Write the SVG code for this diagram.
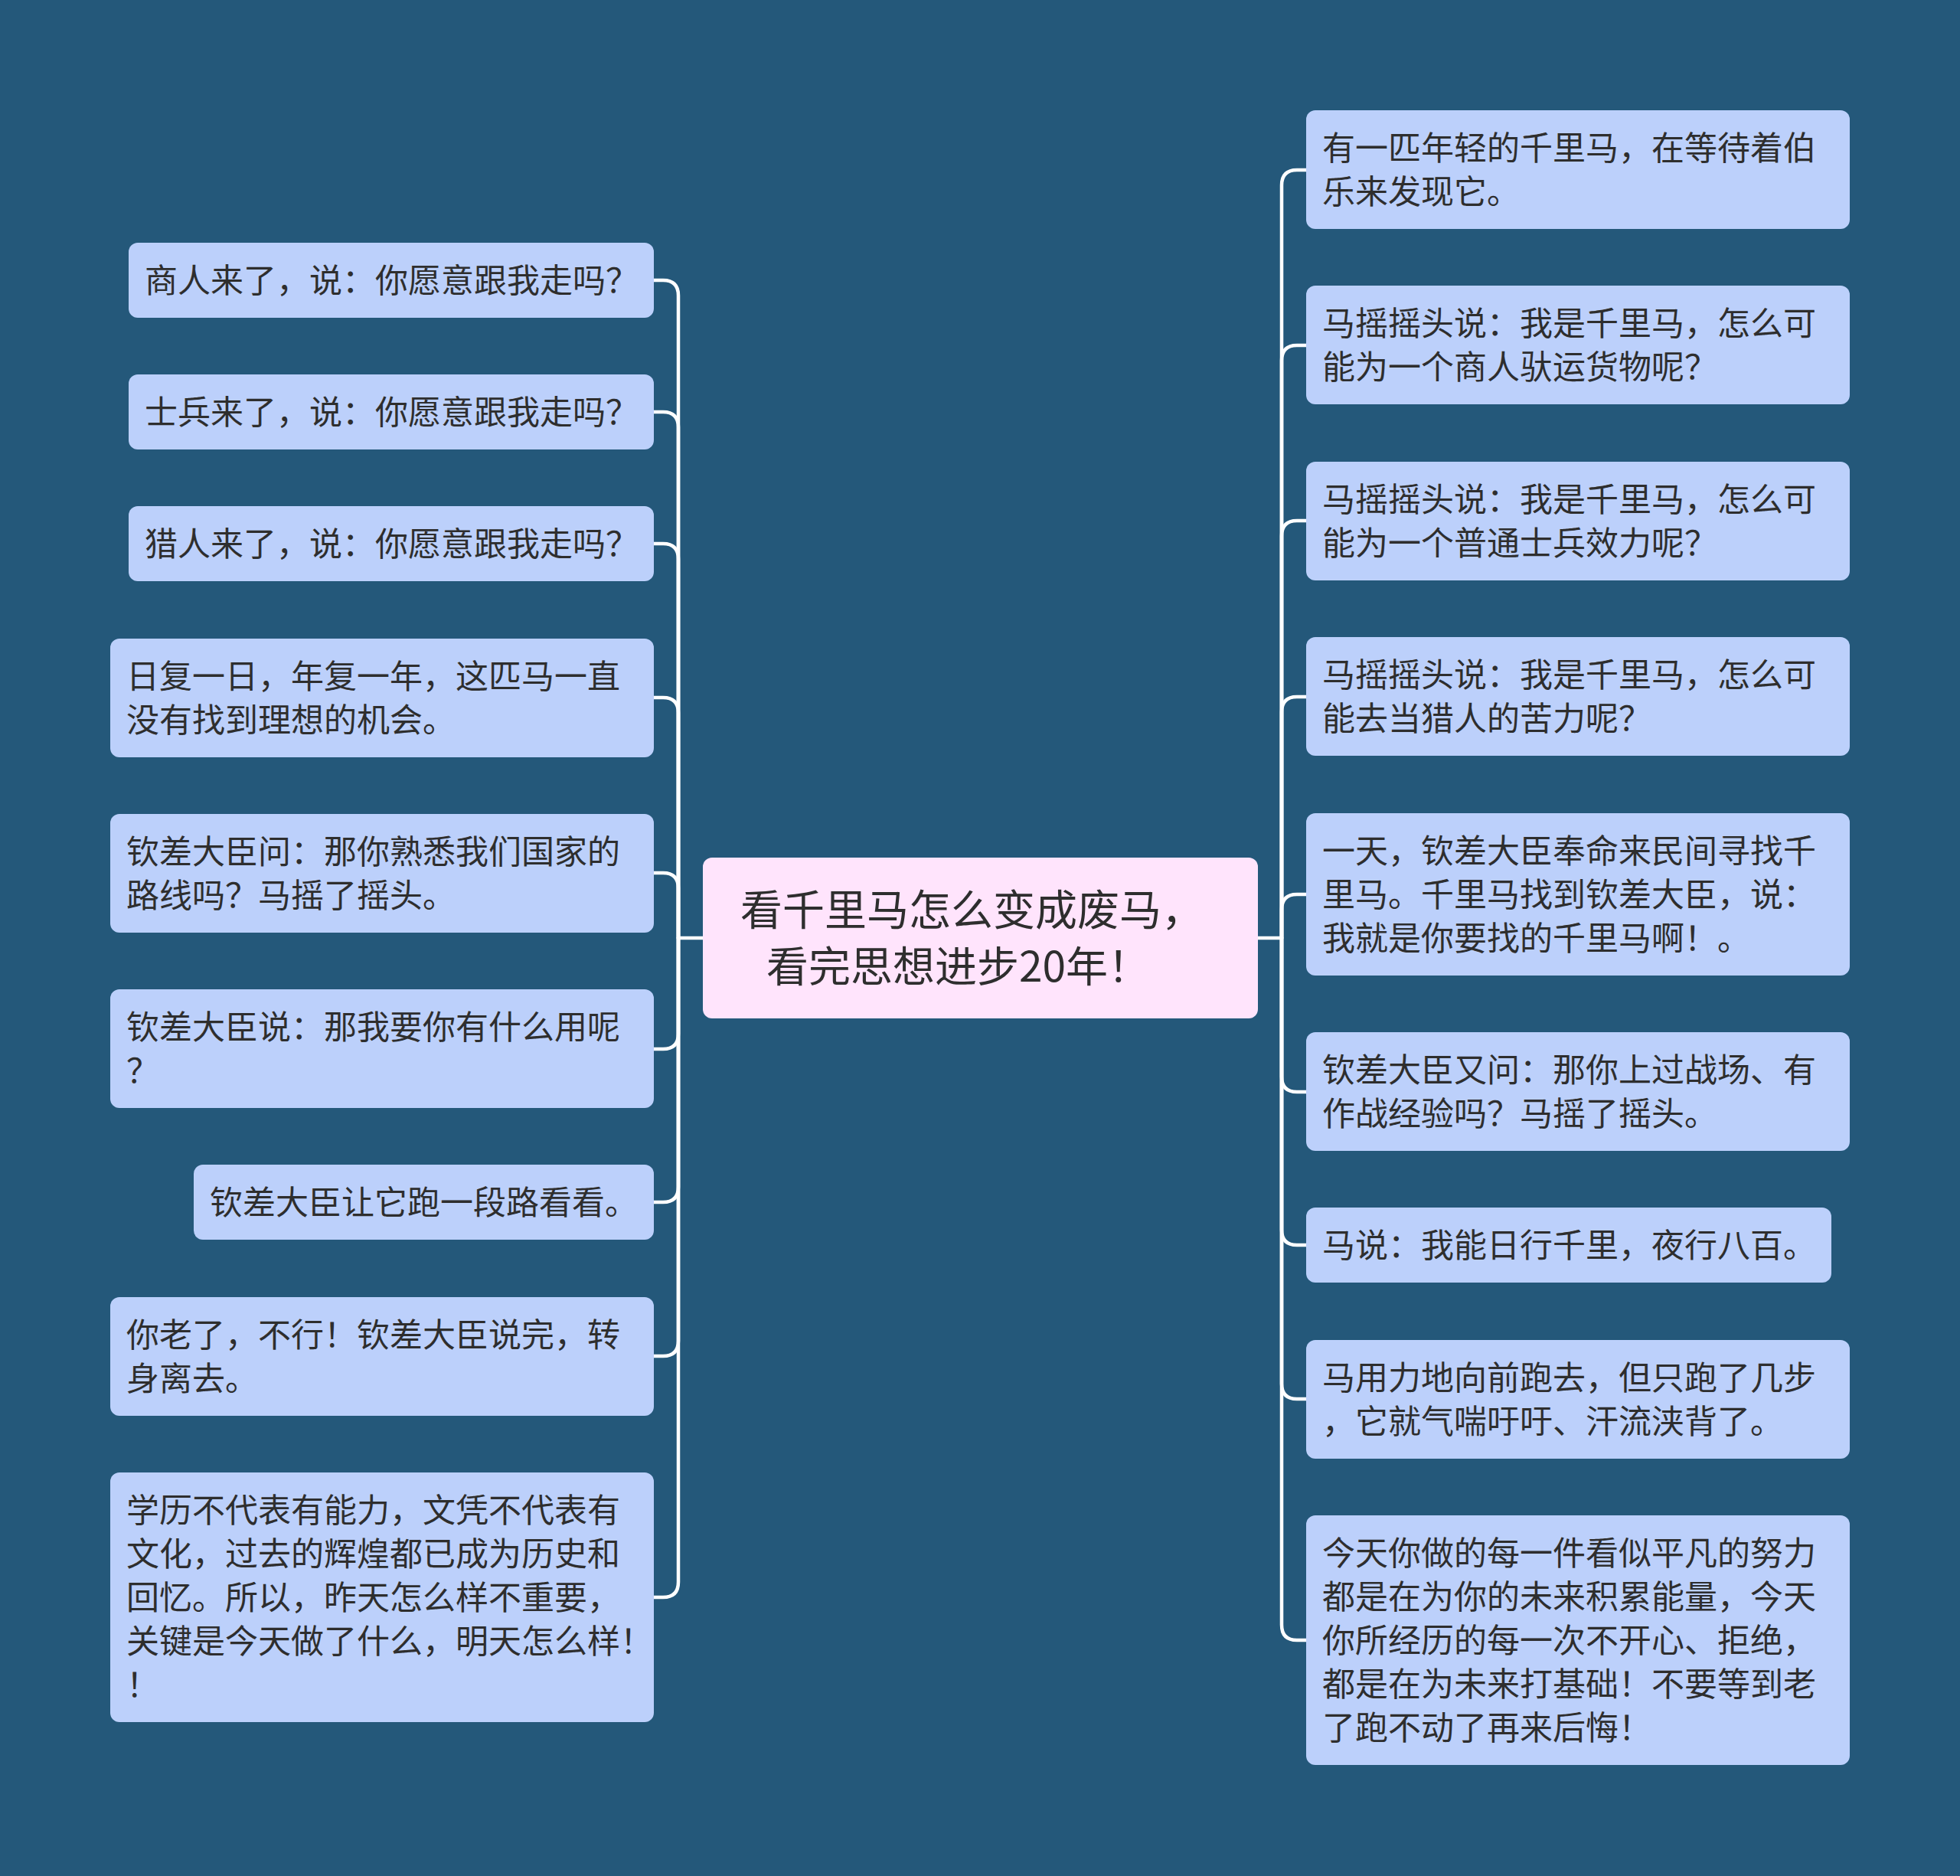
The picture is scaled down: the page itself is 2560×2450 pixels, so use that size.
<svg xmlns="http://www.w3.org/2000/svg" width="2560" height="2450" viewBox="0 0 2560 2450">
<style>
.bg{fill:#24587a}
.box{fill:#bcd0fb}
.root{fill:#ffe4fc}
.t{font-family:"Noto Sans CJK SC","Noto Sans",sans-serif;font-size:43px;fill:#2e2e2e}
.rt{font-family:"Noto Sans CJK SC","Noto Sans",sans-serif;font-size:55px;fill:#2e2e2e}
.c{fill:none;stroke:#ffffff;stroke-width:4.5;stroke-linecap:round}
</style>
<rect class="bg" x="0" y="0" width="2560" height="2450"/>
<g id="connectors">
<path class="c" d="M918 1225 H886"/>
<path class="c" d="M1643 1225 H1674"/>
<path class="c" d="M886 1225 V386 Q886 366 866 366 H854"/>
<path class="c" d="M886 1225 V558 Q886 538 866 538 H854"/>
<path class="c" d="M886 1225 V730 Q886 710 866 710 H854"/>
<path class="c" d="M886 1225 V931 Q886 911 866 911 H854"/>
<path class="c" d="M886 1225 V1160 Q886 1140 866 1140 H854"/>
<path class="c" d="M886 1225 V1350 Q886 1370 866 1370 H854"/>
<path class="c" d="M886 1225 V1550 Q886 1570 866 1570 H854"/>
<path class="c" d="M886 1225 V1751 Q886 1771 866 1771 H854"/>
<path class="c" d="M886 1225 V2066 Q886 2086 866 2086 H854"/>
<path class="c" d="M1674 1225 V242 Q1674 222 1694 222 H1706"/>
<path class="c" d="M1674 1225 V471 Q1674 451 1694 451 H1706"/>
<path class="c" d="M1674 1225 V700 Q1674 680 1694 680 H1706"/>
<path class="c" d="M1674 1225 V930 Q1674 910 1694 910 H1706"/>
<path class="c" d="M1674 1225 V1188 Q1674 1168 1694 1168 H1706"/>
<path class="c" d="M1674 1225 V1406 Q1674 1426 1694 1426 H1706"/>
<path class="c" d="M1674 1225 V1606 Q1674 1626 1694 1626 H1706"/>
<path class="c" d="M1674 1225 V1807 Q1674 1827 1694 1827 H1706"/>
<path class="c" d="M1674 1225 V2122 Q1674 2142 1694 2142 H1706"/>
</g>
<g id="root">
<rect class="root" x="918" y="1120" width="725" height="210" rx="12"/>
<text class="rt" x="967" y="1208">看千里马怎么变成废马，</text>
<text class="rt" x="1001" y="1282">看完思想进步20年！</text>
</g>
<g id="l1"><rect class="box" x="168" y="317" width="686" height="98" rx="12"/><text class="t" x="189" y="382">商人来了，说：你愿意跟我走吗？</text></g>
<g id="l2"><rect class="box" x="168" y="489" width="686" height="98" rx="12"/><text class="t" x="189" y="554">士兵来了，说：你愿意跟我走吗？</text></g>
<g id="l3"><rect class="box" x="168" y="661" width="686" height="98" rx="12"/><text class="t" x="189" y="726">猎人来了，说：你愿意跟我走吗？</text></g>
<g id="l4"><rect class="box" x="144" y="834" width="710" height="155" rx="12"/><text class="t" x="165" y="899">日复一日，年复一年，这匹马一直</text><text class="t" x="165" y="956">没有找到理想的机会。</text></g>
<g id="l5"><rect class="box" x="144" y="1063" width="710" height="155" rx="12"/><text class="t" x="165" y="1128">钦差大臣问：那你熟悉我们国家的</text><text class="t" x="165" y="1185">路线吗？马摇了摇头。</text></g>
<g id="l6"><rect class="box" x="144" y="1292" width="710" height="155" rx="12"/><text class="t" x="165" y="1357">钦差大臣说：那我要你有什么用呢</text><text class="t" x="165" y="1414">？</text></g>
<g id="l7"><rect class="box" x="253" y="1521" width="601" height="98" rx="12"/><text class="t" x="274" y="1586">钦差大臣让它跑一段路看看。</text></g>
<g id="l8"><rect class="box" x="144" y="1694" width="710" height="155" rx="12"/><text class="t" x="165" y="1759">你老了，不行！钦差大臣说完，转</text><text class="t" x="165" y="1816">身离去。</text></g>
<g id="l9"><rect class="box" x="144" y="1923" width="710" height="326" rx="12"/><text class="t" x="165" y="1988">学历不代表有能力，文凭不代表有</text><text class="t" x="165" y="2045">文化，过去的辉煌都已成为历史和</text><text class="t" x="165" y="2102">回忆。所以，昨天怎么样不重要，</text><text class="t" x="165" y="2159">关键是今天做了什么，明天怎么样！</text><text class="t" x="165" y="2216">！</text></g>
<g id="r1"><rect class="box" x="1706" y="144" width="710" height="155" rx="12"/><text class="t" x="1727" y="209">有一匹年轻的千里马，在等待着伯</text><text class="t" x="1727" y="266">乐来发现它。</text></g>
<g id="r2"><rect class="box" x="1706" y="373" width="710" height="155" rx="12"/><text class="t" x="1727" y="438">马摇摇头说：我是千里马，怎么可</text><text class="t" x="1727" y="495">能为一个商人驮运货物呢？</text></g>
<g id="r3"><rect class="box" x="1706" y="603" width="710" height="155" rx="12"/><text class="t" x="1727" y="668">马摇摇头说：我是千里马，怎么可</text><text class="t" x="1727" y="725">能为一个普通士兵效力呢？</text></g>
<g id="r4"><rect class="box" x="1706" y="832" width="710" height="155" rx="12"/><text class="t" x="1727" y="897">马摇摇头说：我是千里马，怎么可</text><text class="t" x="1727" y="954">能去当猎人的苦力呢？</text></g>
<g id="r5"><rect class="box" x="1706" y="1062" width="710" height="212" rx="12"/><text class="t" x="1727" y="1127">一天，钦差大臣奉命来民间寻找千</text><text class="t" x="1727" y="1184">里马。千里马找到钦差大臣，说：</text><text class="t" x="1727" y="1241">我就是你要找的千里马啊！。</text></g>
<g id="r6"><rect class="box" x="1706" y="1348" width="710" height="155" rx="12"/><text class="t" x="1727" y="1413">钦差大臣又问：那你上过战场、有</text><text class="t" x="1727" y="1470">作战经验吗？马摇了摇头。</text></g>
<g id="r7"><rect class="box" x="1706" y="1577" width="686" height="98" rx="12"/><text class="t" x="1727" y="1642">马说：我能日行千里，夜行八百。</text></g>
<g id="r8"><rect class="box" x="1706" y="1750" width="710" height="155" rx="12"/><text class="t" x="1727" y="1815">马用力地向前跑去，但只跑了几步</text><text class="t" x="1727" y="1872">，它就气喘吁吁、汗流浃背了。</text></g>
<g id="r9"><rect class="box" x="1706" y="1979" width="710" height="326" rx="12"/><text class="t" x="1727" y="2044">今天你做的每一件看似平凡的努力</text><text class="t" x="1727" y="2101">都是在为你的未来积累能量，今天</text><text class="t" x="1727" y="2158">你所经历的每一次不开心、拒绝，</text><text class="t" x="1727" y="2215">都是在为未来打基础！不要等到老</text><text class="t" x="1727" y="2272">了跑不动了再来后悔！</text></g>
</svg>
